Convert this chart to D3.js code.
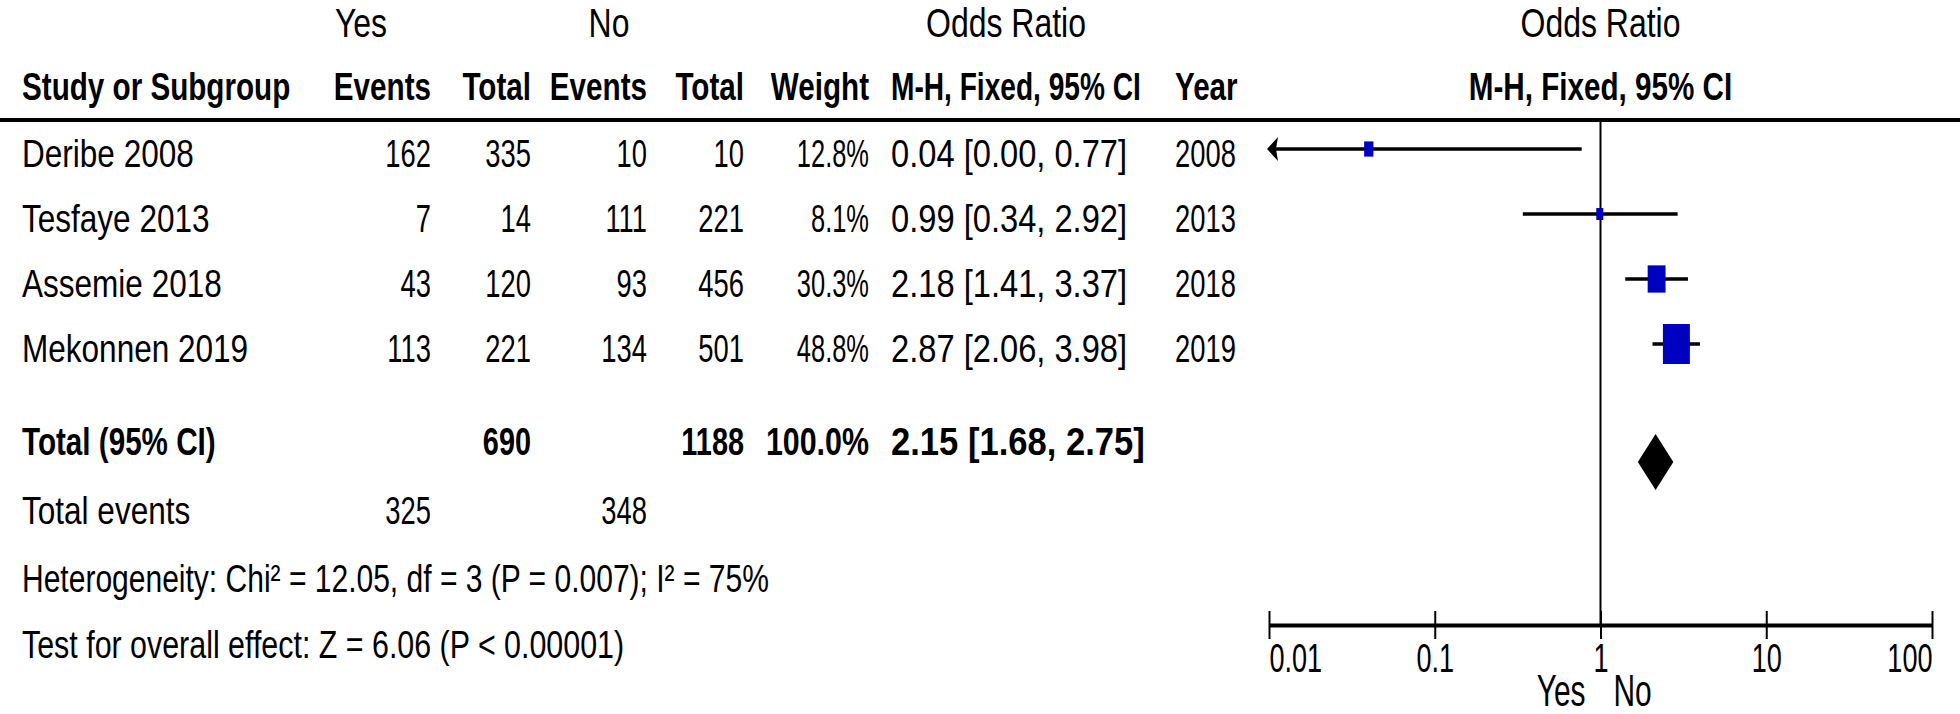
<!DOCTYPE html>
<html>
<head>
<meta charset="utf-8">
<script src="https://cdn.jsdelivr.net/npm/d3@7"></script>
<style>
  html, body { margin: 0; padding: 0; background: #fff; }
  svg { display: block; }
  text { font-family: "Liberation Sans", Arial, sans-serif; fill: #000; }
</style>
</head>
<body>
<svg id="chart" width="1960" height="714"></svg>
<script>
// ---------------- data ----------------
const studies    = ["Deribe 2008", "Tesfaye 2013", "Assemie 2018", "Mekonnen 2019"];
const yesEvents  = [162, 7, 43, 113];
const yesTotal   = [335, 14, 120, 221];
const noEvents   = [10, 111, 93, 134];
const noTotal    = [10, 221, 456, 501];
const weights    = [12.8, 8.1, 30.3, 48.8];
const oddsRatio  = [0.04, 0.99, 2.18, 2.87];
const ciLower    = [0.00, 0.34, 1.41, 2.06];
const ciUpper    = [0.77, 2.92, 3.37, 3.98];
const years      = [2008, 2013, 2018, 2019];

const totalYesEvents = 325, totalNoEvents = 348;
const totalYes = 690, totalNo = 1188, totalWeight = 100.0;
const totalOR = 2.15, totalLower = 1.68, totalUpper = 2.75;
const heterogeneityText = "Heterogeneity: Chi\u00B2 = 12.05, df = 3 (P = 0.007); I\u00B2 = 75%";
const overallText = "Test for overall effect: Z = 6.06 (P < 0.00001)";

const tickValues = [0.01, 0.1, 1, 10, 100];
const tickLabels = ["0.01", "0.1", "1", "10", "100"];
const favoursLeft = "Yes", favoursRight = "No";

// ---------------- layout ----------------
const svg = d3.select("#chart");
const W = 1960;
const FS = 38, SX = 0.8, SXN = 0.72;

function txt(x, y, s, o = {}) {
  return svg.append("text")
    .attr("transform", `translate(${x},${y}) scale(${o.sx || SX},1)`)
    .attr("text-anchor", o.anchor || "start")
    .style("font-size", (o.fs || FS) + "px")
    .style("font-weight", o.bold ? "bold" : "normal")
    .text(s);
}

const col = {
  study: 22, yesEv: 431, yesTot: 531, noEv: 647, noTot: 744,
  weight: 869, ci: 891, year: 1175
};

const x = d3.scaleLog().domain([0.01, 100]).range([1269, 1932]);
const rowY = d3.scaleLinear().domain([0, studies.length - 1]).range([149, 344]);
const textShift = 4;
const totalY = 462;
const axisY = 625;
const headerLineY = 120;
const f2 = d3.format(".2f"), f1 = d3.format(".1f");
const ciText = (o, l, u) => `${f2(o)} [${f2(l)}, ${f2(u)}]`;

// header row 1
const h1 = 37;
const r1 = {anchor: "middle", fs: 41, sx: 0.78};
txt(361, h1, "Yes", r1);
txt(609, h1, "No", r1);
txt(1006, h1, "Odds Ratio", r1);
txt(x(1), h1, "Odds Ratio", r1);

// header row 2
const h2 = 100;
const hb = {bold: true, sx: 0.78};
txt(col.study, h2, "Study or Subgroup", hb);
txt(col.yesEv, h2, "Events", {...hb, anchor: "end"});
txt(col.yesTot, h2, "Total", {...hb, anchor: "end"});
txt(col.noEv, h2, "Events", {...hb, anchor: "end"});
txt(col.noTot, h2, "Total", {...hb, anchor: "end"});
txt(col.weight, h2, "Weight", {...hb, anchor: "end"});
txt(col.ci, h2, "M-H, Fixed, 95% CI", {...hb, sx: 0.74});
txt(col.year, h2, "Year", hb);
txt(x(1), h2, "M-H, Fixed, 95% CI", {...hb, anchor: "middle"});

svg.append("line").attr("x1", 0).attr("x2", W)
  .attr("y1", headerLineY).attr("y2", headerLineY)
  .attr("stroke", "#000").attr("stroke-width", 4);

// study rows
const base = 13.5;
studies.forEach((s, i) => {
  const y = rowY(i) + textShift + base;
  txt(col.study, y, s, {sx: 0.83});
  txt(col.yesEv, y, yesEvents[i], {anchor: "end", sx: SXN});
  txt(col.yesTot, y, yesTotal[i], {anchor: "end", sx: SXN});
  txt(col.noEv, y, noEvents[i], {anchor: "end", sx: SXN});
  txt(col.noTot, y, noTotal[i], {anchor: "end", sx: SXN});
  txt(col.weight, y, f1(weights[i]) + "%", {anchor: "end", sx: 0.67});
  txt(col.ci, y, ciText(oddsRatio[i], ciLower[i], ciUpper[i]), {sx: 0.86});
  txt(col.year, y, years[i], {sx: SXN});
});

// totals
const ty = 441 + base;
const tb = {bold: true, sx: 0.76};
txt(col.study, ty, "Total (95% CI)", {bold: true, sx: 0.78});
txt(col.yesTot, ty, totalYes, {...tb, anchor: "end"});
txt(col.noTot, ty, totalNo, {...tb, anchor: "end"});
txt(col.weight, ty, f1(totalWeight) + "%", {...tb, anchor: "end", sx: 0.8});
txt(col.ci, ty, ciText(totalOR, totalLower, totalUpper), {...tb, sx: 0.91});

const tey = 510 + base;
txt(col.study, tey, "Total events", {sx: 0.83});
txt(col.yesEv, tey, totalYesEvents, {anchor: "end", sx: SXN});
txt(col.noEv, tey, totalNoEvents, {anchor: "end", sx: SXN});
txt(col.study, 578 + base, heterogeneityText, {sx: 0.79});
txt(col.study, 644 + base, overallText);

// ---------------- plot ----------------
const [xmin, xmax] = x.domain();
// null line
svg.append("line").attr("x1", x(1)).attr("x2", x(1))
  .attr("y1", headerLineY).attr("y2", axisY)
  .attr("stroke", "#000").attr("stroke-width", 2);

// weight -> box size
const boxW = d3.scaleLinear().domain([0, 100]).range([3.0, 52.1]);
const boxH = d3.scaleLinear().domain([0, 100]).range([6.4, 75.2]);

const g = svg.append("g");
studies.forEach((s, i) => {
  const y = rowY(i);
  const lo = Math.max(ciLower[i], xmin), hi = Math.min(ciUpper[i], xmax);
  g.append("line").attr("x1", x(lo)).attr("x2", x(hi))
    .attr("y1", y).attr("y2", y)
    .attr("stroke", "#000").attr("stroke-width", 3.5);
  if (ciLower[i] < xmin) {
    const ax = x(xmin) - 2;
    g.append("path")
      .attr("d", `M${ax},${y} L${ax + 11},${y - 12} L${ax + 9},${y} L${ax + 11},${y + 12} Z`)
      .attr("fill", "#000");
  }
  const bw = boxW(weights[i]), bh = boxH(weights[i]);
  g.append("rect")
    .attr("x", x(oddsRatio[i]) - bw / 2).attr("y", y - bh / 2)
    .attr("width", bw).attr("height", bh)
    .attr("fill", "#0000c0");
});

// diamond
const dh = 28;
g.append("path")
  .attr("d", `M${x(totalLower)},${totalY} L${x(totalOR)},${totalY - dh} L${x(totalUpper)},${totalY} L${x(totalOR)},${totalY + dh} Z`)
  .attr("fill", "#000");

// axis
const axis = d3.axisBottom(x).tickValues(tickValues)
  .tickFormat((d, i) => tickLabels[i]).tickSizeOuter(0);
const ag = svg.append("g").attr("transform", `translate(0,${axisY})`).call(axis);
ag.attr("font-size", null).attr("font-family", null);
ag.select(".domain").attr("stroke", "#000").attr("stroke-width", 4);
ag.selectAll(".tick line").attr("y1", -14).attr("y2", 14)
  .attr("stroke", "#000").attr("stroke-width", 2);
ag.selectAll(".tick text").each(function(d, i) {
  const n = tickValues.length;
  d3.select(this)
    .attr("y", null).attr("dy", null)
    .attr("transform", `translate(0,47) scale(0.66,1)`)
    .attr("text-anchor", i === 0 ? "start" : (i === n - 1 ? "end" : "middle"))
    .attr("fill", "#000")
    .style("font-size", "41px")
    .style("font-family", '"Liberation Sans", Arial, sans-serif');
});

txt(x(1) - 15, 706, favoursLeft, {anchor: "end", fs: 44, sx: 0.68});
txt(x(1) + 13, 706, favoursRight, {anchor: "start", fs: 44, sx: 0.68});
</script>
</body>
</html>
